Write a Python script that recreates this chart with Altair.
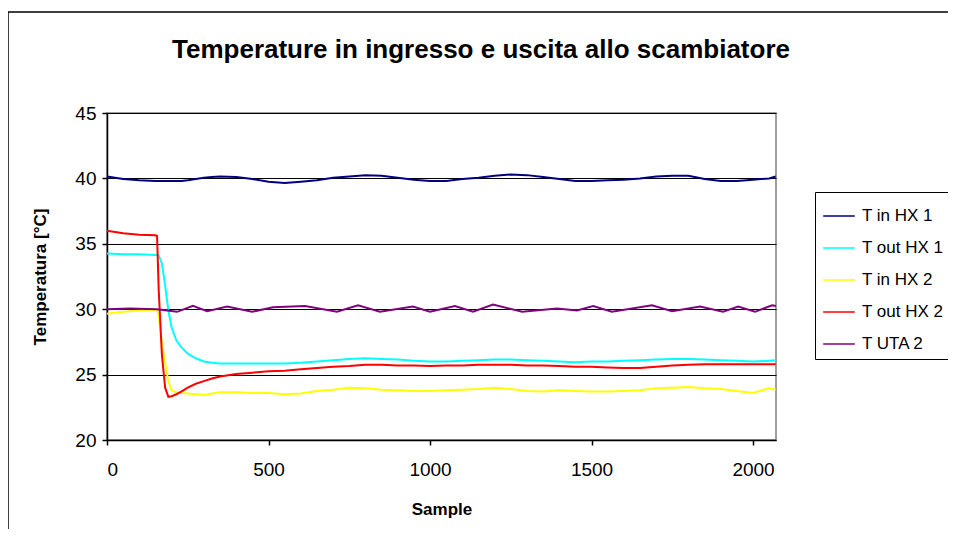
import altair as alt
import pandas as pd

# Shared sample positions for the four main series
samples = [0, 50, 100, 150, 155, 160, 170, 180, 190, 200, 215, 230, 250, 275, 300, 325, 350,
           400, 450, 500, 550, 600, 650, 700, 750, 800, 850, 900, 950, 1000, 1050, 1100, 1150,
           1200, 1250, 1300, 1350, 1400, 1450, 1500, 1550, 1600, 1650, 1700, 1750, 1800, 1850,
           1900, 1950, 2000, 2050, 2070]

t_in_hx1 = [40.15, 39.95, 39.85, 39.8, 39.8, 39.8, 39.8, 39.8, 39.8, 39.8, 39.8, 39.8, 39.85, 39.95,
            40.05, 40.1, 40.15, 40.1, 39.95, 39.75, 39.65, 39.75, 39.85, 40.05, 40.15, 40.25, 40.2,
            40.05, 39.9, 39.8, 39.8, 39.95, 40.05, 40.2, 40.3, 40.25, 40.1, 39.95, 39.8, 39.8, 39.85,
            39.9, 40.0, 40.15, 40.2, 40.2, 39.95, 39.8, 39.8, 39.9, 40.0, 40.15]

t_out_hx1 = [34.25, 34.2, 34.2, 34.15, 34.15, 34.1, 33.5, 31.8, 29.9, 28.6, 27.6, 27.1, 26.6, 26.25,
             26.0, 25.9, 25.85, 25.85, 25.85, 25.85, 25.85, 25.9, 26.0, 26.1, 26.2, 26.25, 26.2,
             26.15, 26.05, 26.0, 26.0, 26.05, 26.1, 26.15, 26.15, 26.1, 26.05, 26.0, 25.95, 26.0,
             26.0, 26.05, 26.1, 26.15, 26.2, 26.2, 26.15, 26.1, 26.05, 26.0, 26.05, 26.1]

t_in_hx2 = [29.65, 29.8, 29.9, 29.95, 29.95, 29.5, 27.4, 25.9, 24.5, 23.8, 23.65, 23.6, 23.55, 23.5,
            23.45, 23.55, 23.65, 23.65, 23.6, 23.6, 23.5, 23.55, 23.75, 23.85, 24.0, 23.95, 23.85,
            23.8, 23.75, 23.75, 23.8, 23.85, 23.9, 24.0, 23.9, 23.75, 23.7, 23.8, 23.75, 23.7, 23.7,
            23.75, 23.8, 23.95, 24.0, 24.05, 23.95, 23.9, 23.75, 23.6, 23.95, 23.85]

t_out_hx2 = [36.0, 35.8, 35.7, 35.65, 35.6, 31.5, 26.5, 24.0, 23.3, 23.35, 23.5, 23.7, 24.0, 24.3,
             24.5, 24.7, 24.85, 25.05, 25.15, 25.25, 25.3, 25.4, 25.5, 25.6, 25.65, 25.75, 25.75,
             25.7, 25.7, 25.65, 25.7, 25.7, 25.75, 25.75, 25.75, 25.7, 25.7, 25.65, 25.6, 25.6,
             25.55, 25.5, 25.5, 25.6, 25.7, 25.75, 25.8, 25.8, 25.8, 25.8, 25.8, 25.8]

# T UTA 2 has its own sample positions (oscillating signal)
uta_samples = [0, 71, 155, 217, 266, 310, 372, 449, 514, 613, 712, 777, 845, 947, 1000, 1077, 1133,
               1195, 1285, 1393, 1455, 1505, 1563, 1687, 1749, 1836, 1907, 1954, 2006, 2059, 2071]
t_uta2 = [30.0, 30.05, 30.0, 29.8, 30.25, 29.85, 30.2, 29.8, 30.15, 30.25, 29.8, 30.3, 29.8, 30.2,
          29.8, 30.25, 29.8, 30.35, 29.8, 30.05, 29.9, 30.25, 29.8, 30.3, 29.85, 30.2, 29.8, 30.2,
          29.8, 30.3, 30.25]

series_names = ["T in HX 1", "T out HX 1", "T in HX 2", "T out HX 2", "T UTA 2"]
series_colors = ["#000080", "#00FFFF", "#FFFF00", "#FF0000", "#800080"]

y_ticks = [20, 25, 30, 35, 40, 45]
x_ticks = [0, 500, 1000, 1500, 2000]

title_text = "Temperature in ingresso e uscita allo scambiatore"

rows = []
for name, vals in zip(series_names[:4], [t_in_hx1, t_out_hx1, t_in_hx2, t_out_hx2]):
    for s, v in zip(samples, vals):
        rows.append({"Sample": s, "Temp": v, "Serie": name})
for s, v in zip(uta_samples, t_uta2):
    rows.append({"Sample": s, "Temp": v, "Serie": "T UTA 2"})
df = pd.DataFrame(rows)

FONT = "Liberation Sans"

lines = alt.Chart(df).mark_line(strokeWidth=2).encode(
    x=alt.X("Sample:Q", scale=alt.Scale(domain=[0, 2071], nice=False, zero=False),
            axis=alt.Axis(values=x_ticks, format="d", title="Sample", grid=False, tickSize=5,
                          labelPadding=15, titlePadding=22)),
    y=alt.Y("Temp:Q", scale=alt.Scale(domain=[20, 45], nice=False, zero=False),
            axis=alt.Axis(values=y_ticks, title="Temperatura [°C]", grid=True, tickSize=5,
                          labelPadding=6, titlePadding=25)),
    color=alt.Color("Serie:N", scale=alt.Scale(domain=series_names, range=series_colors),
                    legend=alt.Legend(title=None, orient="none", legendX=708, legendY=79,
                                      strokeColor="#000", fillColor="#fff", padding=7,
                                      symbolType="stroke", symbolSize=1000,
                                      symbolStrokeWidth=1.5, labelFontSize=17,
                                      labelFont=FONT, labelColor="#000", rowPadding=7,
                                      labelOffset=6)),
    order=alt.Order("Sample:Q"),
)

border = alt.Chart(alt.Data(values=[{}])).mark_rect(
    fill="white", fillOpacity=0, stroke="#000", strokeWidth=1.5
).encode(x=alt.value(-99), x2=alt.value(900), y=alt.value(-101), y2=alt.value(600))

title = alt.Chart(alt.Data(values=[{}])).mark_text(
    text=title_text, font=FONT, fontSize=26, fontWeight="bold", color="#000",
    align="center", baseline="middle"
).encode(x=alt.value(374), y=alt.value(-63))

chart = alt.layer(border, title, lines).properties(
    width=669, height=327,
    autosize=alt.AutoSizeParams(type="none"),
    padding={"left": 99, "top": 105, "right": 172, "bottom": 89},
).configure_view(stroke="#808080", strokeWidth=1.5).configure_axis(
    labelFont=FONT, titleFont=FONT, labelFontSize=19, titleFontSize=17,
    titleFontWeight="bold", labelColor="#000", titleColor="#000",
    domainColor="#000", tickColor="#000", gridColor="#000", gridWidth=1,
    domainWidth=1.5, tickWidth=1.5,
)

chart.save("out.html", embed_options={"renderer": "svg", "actions": False})
